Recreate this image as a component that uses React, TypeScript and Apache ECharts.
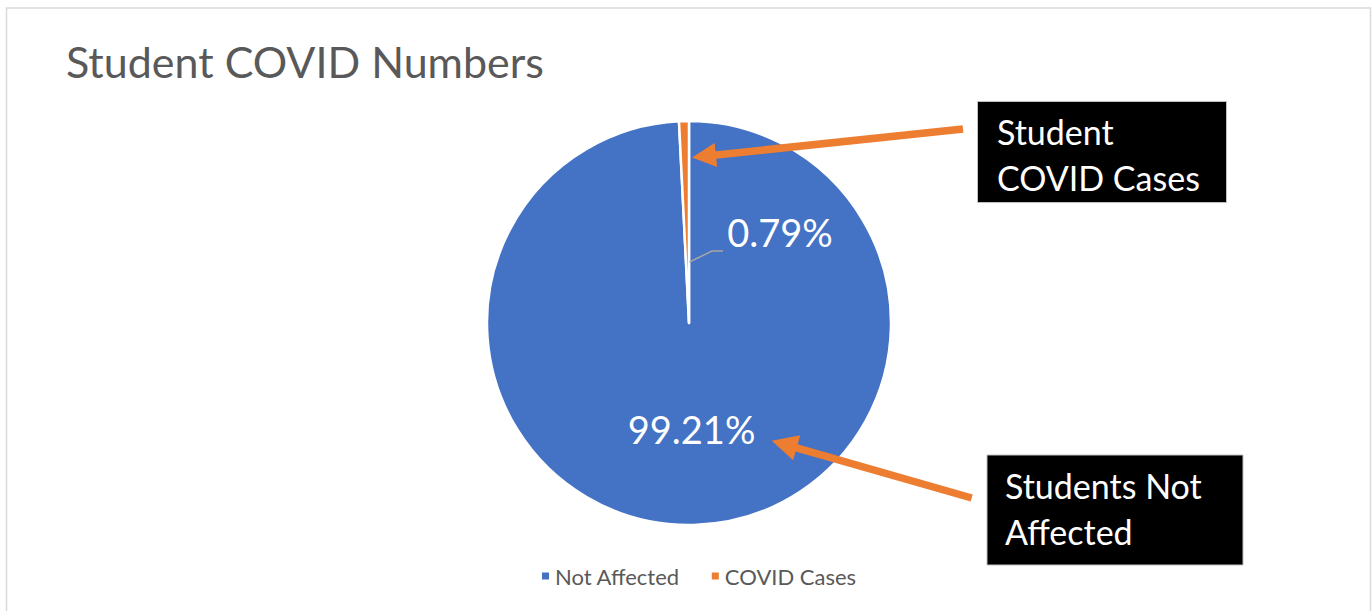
import React, { useEffect, useRef } from "react";
import * as echarts from "echarts";

const categories = ["Not Affected", "COVID Cases"];
const values = [99.21, 0.79];
const colors = ["#4472C4", "#ED7D31"];
const titleText = "Student COVID Numbers";
const calloutTop = ["Student", "COVID Cases"];
const calloutBottom = ["Students Not", "Affected"];

const FONT = "Lato, 'Noto Sans', sans-serif";
const ORANGE = "#ED7D31";

function arrow(tail: number[], tip: number[], headLen: number, headHalf: number, width: number) {
  const dx = tip[0] - tail[0];
  const dy = tip[1] - tail[1];
  const len = Math.sqrt(dx * dx + dy * dy);
  const ux = dx / len;
  const uy = dy / len;
  const nx = -uy;
  const ny = ux;
  const bx = tip[0] - ux * headLen;
  const by = tip[1] - uy * headLen;
  return [
    {
      type: "line",
      z: 100,
      shape: { x1: tail[0], y1: tail[1], x2: bx + ux * 2, y2: by + uy * 2 },
      style: { stroke: ORANGE, lineWidth: width, lineCap: "butt" },
      silent: true,
    },
    {
      type: "polygon",
      z: 100,
      shape: {
        points: [
          [tip[0], tip[1]],
          [bx + nx * headHalf, by + ny * headHalf],
          [bx - nx * headHalf, by - ny * headHalf],
        ],
      },
      style: { fill: ORANGE },
      silent: true,
    },
  ];
}

export default function App() {
  const ref = useRef<HTMLDivElement>(null);
  useEffect(() => {
    if (!ref.current) return;
    const chart = echarts.init(ref.current, undefined, { renderer: "svg" });
    const option: any = {
      animation: false,
      backgroundColor: "#ffffff",
      title: {
        text: titleText,
        left: 61,
        top: 31,
        textStyle: {
          fontFamily: FONT,
          fontSize: 43,
          fontWeight: "normal",
          color: "#595959",
          lineHeight: 50,
        },
      },
      legend: {
        data: categories,
        left: 535,
        top: 559,
        icon: "rect",
        itemWidth: 9,
        itemHeight: 9,
        itemGap: 30,
        textStyle: {
          fontFamily: FONT,
          fontSize: 22,
          color: "#595959",
          lineHeight: 24,
        },
      },
      series: [
        {
          type: "pie",
          center: [689, 323],
          radius: 202,
          startAngle: 90,
          clockwise: true,
          avoidLabelOverlap: false,
          itemStyle: { borderColor: "#ffffff", borderWidth: 2.5 },
          label: {
            show: true,
            position: "inside",
            formatter: "{d}%",
            color: "#ffffff",
            fontFamily: FONT,
            fontSize: 38,
          },
          labelLine: { show: false },
          emphasis: { disabled: true },
          data: categories.map((name, i) => ({
            name,
            value: values[i],
            itemStyle: { color: colors[i] },
            label: i === 0 ? { offset: [0, 2] } : { offset: [93.5, 13] },
          })),
        },
      ],
      graphic: [
        {
          type: "rect",
          shape: { x: 6.5, y: 8, width: 1364, height: 700 },
          style: { fill: "none", stroke: "#d9d9d9", lineWidth: 1.5 },
          silent: true,
          z: -10,
        },
        {
          type: "polyline",
          z: 100,
          shape: { points: [[689.5, 262], [712, 251], [723, 251]] },
          style: { stroke: "#a6a6a6", lineWidth: 1.5, fill: "none" },
          silent: true,
        },
        ...arrow([963, 129], [692, 157.5], 24, 12, 7.5),
        ...arrow([971.7, 498], [771.7, 440.7], 26, 13, 7.5),
        {
          type: "rect",
          z: 100,
          shape: { x: 977.5, y: 101.5, width: 249, height: 101 },
          style: { fill: "#000000", stroke: "#bfbfbf", lineWidth: 1 },
          silent: true,
        },
        {
          type: "text",
          z: 101,
          x: 997,
          y: 108.8,
          style: {
            text: calloutTop.join("\n"),
            fill: "#ffffff",
            font: `34px ${FONT}`,
            lineHeight: 46,
            verticalAlign: "top",
            align: "left",
          },
          silent: true,
        },
        {
          type: "rect",
          z: 100,
          shape: { x: 987, y: 455, width: 256, height: 110 },
          style: { fill: "#000000", stroke: "#bfbfbf", lineWidth: 1 },
          silent: true,
        },
        {
          type: "text",
          z: 101,
          x: 1005,
          y: 462.8,
          style: {
            text: calloutBottom.join("\n"),
            fill: "#ffffff",
            font: `34px ${FONT}`,
            lineHeight: 46,
            verticalAlign: "top",
            align: "left",
          },
          silent: true,
        },
      ],
    };
    chart.setOption(option);
    return () => chart.dispose();
  }, []);
  return (
    <div
      ref={ref}
      style={{ position: "fixed", left: 0, top: 0, width: 1372, height: 611 }}
    />
  );
}
